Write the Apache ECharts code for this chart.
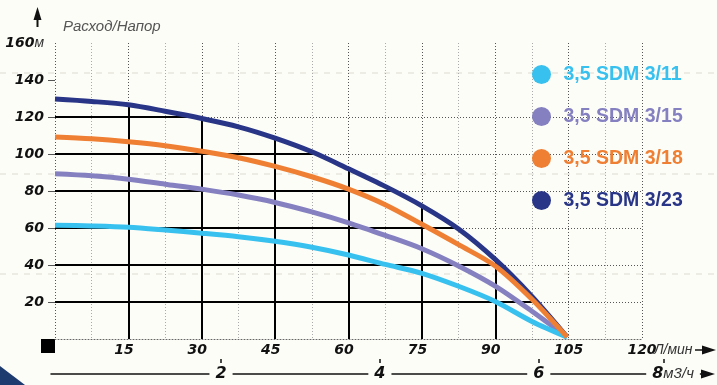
<!DOCTYPE html>
<html><head><meta charset="utf-8">
<script src="https://cdn.jsdelivr.net/npm/echarts@6/dist/echarts.min.js"></script>
<style>html,body{margin:0;padding:0;background:#fdfdf8}#c{width:717px;height:385px}</style>
</head><body><div id="c"></div>
<script>
// ---- data ----
const flowLpm = [0, 7.5, 15, 22.5, 30, 37.5, 45, 52.5, 60, 67.5, 75, 82.5, 90, 97.5, 104.7];
const head311 = [61.5, 61.1, 60.4, 58.9, 57.2, 55.3, 52.8, 49.6, 45.4, 40.3, 35.5, 28.5, 20.3, 9.5, 1];
const head315 = [89.3, 88.2, 86.4, 83.7, 81.0, 77.8, 73.8, 68.7, 62.8, 56.0, 48.8, 39.5, 28.6, 15.0, 1];
const head318 = [109.2, 108.2, 106.6, 104.5, 101.5, 98.0, 93.3, 87.7, 81.0, 72.6, 62.0, 51.0, 39.5, 21.5, 1];
const head323 = [129.7, 128.4, 126.6, 123.1, 119.2, 114.7, 108.6, 101.2, 92.0, 82.5, 72.0, 59.5, 43.0, 23.0, 1];
const seriesNames = ['3,5 SDM 3/11', '3,5 SDM 3/15', '3,5 SDM 3/18', '3,5 SDM 3/23'];
const flowLabels = [15, 30, 45, 60, 75, 90, 105, 120];
const headLabels = [20, 40, 60, 80, 100, 120, 140, 160];
const m3hLabels = [2, 4, 6, 8];

// ---- styles / layout ----
const colors = ['#38c1ef', '#8581c1', '#ef7f33', '#293688'];
const seriesZ = [5, 4, 6, 3];
const heads = [head311, head315, head318, head323];
const m3hLabelAt = [2, 4, 6, 7.69];
const m3hTickAt = [2, 4, 6, 7.57];
const BG = '#fdfdf8';
const boldItalic = {fontFamily: 'DejaVu Sans', fontWeight: 'bold', fontStyle: 'italic', fontSize: 14, color: '#111'};

function interpAt(xs, ys, x) {
  for (let i = 0; i < xs.length - 1; i++) {
    if (x >= xs[i] && x <= xs[i + 1]) return ys[i] + (ys[i + 1] - ys[i]) * (x - xs[i]) / (xs[i + 1] - xs[i]);
  }
  return null;
}
function crossAt(xs, ys, h) {
  for (let i = 0; i < xs.length - 1; i++) {
    if (ys[i] >= h && ys[i + 1] < h) return xs[i] + (ys[i] - h) / (ys[i] - ys[i + 1]) * (xs[i + 1] - xs[i]);
  }
  return null;
}
// solid grid under the top curve
const segs = [];
flowLabels.forEach(q => {
  const h = interpAt(flowLpm, head323, q);
  if (h !== null && h > 2) segs.push({coords: [[q, 0], [q, h]]});
});
headLabels.forEach(h => {
  const q = crossAt(flowLpm, head323, h);
  if (q !== null) segs.push({coords: [[0, h], [q, h]]});
});

const chart = echarts.init(document.getElementById('c'), null, {renderer: 'canvas'});
const option = {
  backgroundColor: BG,
  animation: false,
  grid: [
    {left: 55, right: 75, top: 43, bottom: 46},
    {left: 51, right: 9, top: 370, bottom: 9}
  ],
  legend: {
    orient: 'vertical', left: 532, top: 64.5, padding: 0,
    icon: 'circle', itemWidth: 34, itemHeight: 19, itemGap: 22,
    selectedMode: false,
    data: seriesNames.map((n, i) => ({name: n, textStyle: {color: colors[i]}})),
    textStyle: {fontFamily: 'Liberation Sans', fontWeight: 'bold', fontSize: 19.5}
  },
  xAxis: [{
    type: 'value', gridIndex: 0, min: 0, max: 120, interval: 7.5,
    axisLine: {show: true, onZero: false, lineStyle: {color: '#666', type: [1, 2], width: 1}},
    axisTick: {show: false},
    axisLabel: Object.assign({margin: 4,
      formatter: v => flowLabels.includes(v) ? (v < 100 ? '{s|' + v + '}' : String(v)) : '',
      rich: {s: {padding: [0, 9, 0, 0], fontFamily: 'DejaVu Sans', fontWeight: 'bold', fontStyle: 'italic', fontSize: 14, color: '#111'}}
    }, boldItalic),
    splitLine: {show: true, lineStyle: {color: ['#555', '#aaa'], type: [1, 2], width: 1}}
  }, {
    type: 'value', gridIndex: 1, min: -0.14, max: 8.13, position: 'bottom',
    axisLine: {show: true, onZero: false, lineStyle: {color: '#111', width: 1.5}, symbol: ['none', 'triangle'], symbolSize: [9, 14]},
    axisTick: {show: true, inside: true, length: 15, customValues: m3hTickAt, lineStyle: {color: '#111', width: 1.5}},
    axisLabel: Object.assign({}, boldItalic, {
      customValues: m3hLabelAt, margin: 0, verticalAlign: 'middle', fontSize: 16,
      backgroundColor: BG, padding: [3, 6, 3, 6],
      formatter: v => {
        const i = m3hLabelAt.indexOf(v);
        const t = i >= 0 ? String(m3hLabels[i]) : '';
        return i === m3hLabels.length - 1 ? t + '{u|м3/ч}' : t;
      },
      rich: {u: {fontFamily: 'Liberation Sans', fontStyle: 'italic', fontWeight: 'normal', fontSize: 15, color: '#333'}}
    }),
    splitLine: {show: false}
  }],
  yAxis: [{
    type: 'value', gridIndex: 0, min: 0, max: 160, interval: 20,
    name: 'Расход/Напор', nameLocation: 'end', nameGap: 9,
    nameTextStyle: {fontFamily: 'Liberation Sans', fontStyle: 'italic', fontSize: 15, color: '#555', align: 'left', padding: [0, 0, 0, 8]},
    axisLine: {show: false},
    axisTick: {show: true, length: 7, customValues: [20, 40, 60, 80, 100, 120, 140], lineStyle: {color: '#555', width: 1}},
    axisLabel: Object.assign({margin: 11, formatter: v => v === 0 ? '' : (v === 160 ? '160{u|м}' : String(v)),
      rich: {u: {fontFamily: 'Liberation Sans', fontStyle: 'italic', fontWeight: 'normal', fontSize: 14, color: '#333'}}}, boldItalic),
    splitLine: {show: true, showMaxLine: false, lineStyle: {color: '#555', type: [1, 2], width: 1}}
  }, {type: 'value', gridIndex: 1, show: false, min: 0, max: 1}],
  series: [{
    type: 'lines', coordinateSystem: 'cartesian2d', xAxisIndex: 0, yAxisIndex: 0,
    data: segs, silent: true, z: 1,
    lineStyle: {color: '#000', width: 2, opacity: 1, curveness: 0}
  }].concat(seriesNames.map((n, i) => ({
    type: 'line', name: n, xAxisIndex: 0, yAxisIndex: 0,
    data: flowLpm.map((q, k) => [q, heads[i][k]]),
    smooth: 0.3, showSymbol: false, symbol: 'none', silent: true,
    z: seriesZ[i],
    lineStyle: {width: 5, color: colors[i]}, itemStyle: {color: colors[i]}
  })))
};
chart.setOption(option);

const origin = chart.convertToPixel({xAxisIndex: 0, yAxisIndex: 0}, [0, 0]);
const endX = chart.convertToPixel({xAxisIndex: 0, yAxisIndex: 0}, [120, 0]);
chart.setOption({
  graphic: [
    {type: 'line', z: -1, shape: {x1: 0, y1: 73, x2: 717, y2: 73}, style: {stroke: '#ecece5', lineWidth: 2, lineDash: [6, 6]}},
    {type: 'line', z: -1, shape: {x1: 0, y1: 174, x2: 717, y2: 174}, style: {stroke: '#ecece5', lineWidth: 2, lineDash: [6, 6]}},
    {type: 'line', z: -1, shape: {x1: 0, y1: 274, x2: 717, y2: 274}, style: {stroke: '#ecece5', lineWidth: 2, lineDash: [6, 6]}},
    {type: 'rect', shape: {x: origin[0] - 14, y: origin[1], width: 14, height: 14}, style: {fill: '#000'}},
    {type: 'polygon', shape: {points: [[37.5, 7], [33.5, 20], [41.5, 20]]}, style: {fill: '#111'}},
    {type: 'line', shape: {x1: 37.5, y1: 19, x2: 37.5, y2: 27}, style: {stroke: '#111', lineWidth: 2}},
    {type: 'text', x: endX[0] + 12, y: endX[1] + 11, style: {text: 'Л/мин', font: 'italic 14px "Liberation Sans"', fill: '#333', verticalAlign: 'middle', align: 'left'}},
    {type: 'line', shape: {x1: endX[0] + 53, y1: endX[1] + 11, x2: endX[0] + 62, y2: endX[1] + 11}, style: {stroke: '#111', lineWidth: 1.5}},
    {type: 'polygon', shape: {points: [[endX[0] + 60, endX[1] + 6.5], [endX[0] + 74, endX[1] + 11], [endX[0] + 60, endX[1] + 15.5]]}, style: {fill: '#111'}},
    {type: 'polygon', shape: {points: [[0, 366], [25, 385], [0, 385]]}, style: {fill: '#1d3b6f'}}
  ]
});
</script></body></html>
